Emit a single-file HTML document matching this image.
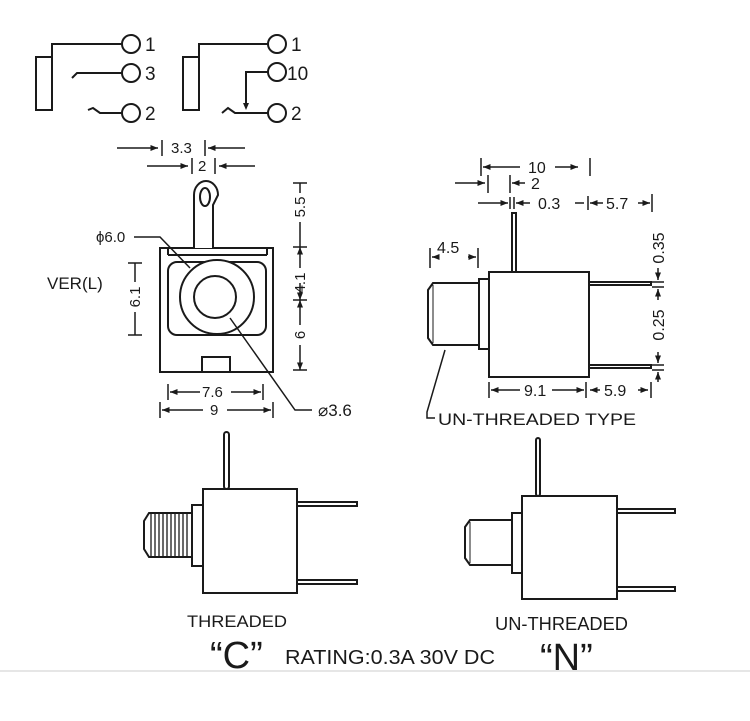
<!DOCTYPE html>
<html><head><meta charset="utf-8"><style>
html,body{margin:0;padding:0;background:#fff;}
svg{display:block;}
text{font-family:"Liberation Sans",Arial,sans-serif;fill:#1a1a1a;}
</style></head><body>
<svg width="750" height="721" viewBox="0 0 750 721" xmlns="http://www.w3.org/2000/svg">
<defs>
<marker id="a" viewBox="0 0 10 10" refX="10" refY="5" markerWidth="7" markerHeight="5" orient="auto-start-reverse"><path d="M0,1 L10,5 L0,9 z" fill="#1a1a1a"/></marker>
</defs>
<g stroke="#1a1a1a" stroke-width="2" fill="none">
<rect x="36" y="57" width="16" height="53"/>
<polyline points="52,57 52,44 122,44"/>
<circle cx="131" cy="44" r="9"/>
<polyline points="72,78 77,73 122,73"/><circle cx="131" cy="73" r="9"/>
<polyline points="88,110 93,108 100,113 122,113"/><circle cx="131" cy="113" r="9"/>
<rect x="183" y="57" width="16" height="53"/>
<polyline points="199,57 199,44 268,44"/><circle cx="277" cy="44" r="9"/>
<polyline points="268,72 246,72 246,105"/><circle cx="277" cy="72" r="9"/>
<polyline points="222,113 228,108 235,113 268,113"/><circle cx="277" cy="113" r="9"/>
</g>
<path d="M243,103 L249,103 L246,110 z" fill="#1a1a1a"/>
<g font-size="19"><text x="145" y="51">1</text><text x="145" y="80">3</text><text x="145" y="120">2</text>
<text x="291" y="51">1</text><text x="287" y="80">10</text><text x="291" y="120">2</text></g>

<g stroke="#1a1a1a" stroke-width="2" fill="none">
<rect x="160" y="248" width="113" height="124"/>
<line x1="168" y1="255" x2="267" y2="255"/><line x1="168" y1="248" x2="168" y2="255"/><line x1="267" y1="248" x2="267" y2="255"/>
<rect x="168" y="262" width="98" height="73" rx="9"/>
<circle cx="217" cy="297" r="37" fill="#fff"/>
<circle cx="215" cy="297" r="21"/>
<path d="M194,248 L194,195 A12,14 0 0 1 218,195 L213,205 L213,248" fill="#fff"/>
<ellipse cx="205" cy="197" rx="5" ry="9"/>
<rect x="202" y="357" width="28" height="15"/>
<polyline points="134,237 160,237 190,268" stroke-width="1.5"/>
<polyline points="230,318 295,410 312,410" stroke-width="1.5"/>
</g>
<g stroke="#1a1a1a" stroke-width="1.5" fill="none">
<line x1="117" y1="148" x2="158" y2="148" marker-end="url(#a)"/><line x1="162" y1="140" x2="162" y2="156"/>
<line x1="205" y1="140" x2="205" y2="156"/><line x1="245" y1="148" x2="208" y2="148" marker-end="url(#a)"/>
<line x1="147" y1="166" x2="188" y2="166" marker-end="url(#a)"/><line x1="192" y1="158" x2="192" y2="174"/>
<line x1="215" y1="158" x2="215" y2="174"/><line x1="255" y1="166" x2="219" y2="166" marker-end="url(#a)"/>
<line x1="293" y1="183" x2="307" y2="183"/><line x1="300" y1="183" x2="300" y2="193"/><line x1="300" y1="222" x2="300" y2="247"/>
<line x1="293" y1="247" x2="307" y2="247"/><line x1="300" y1="247" x2="300" y2="268" marker-start="url(#a)"/>
<line x1="300" y1="300" x2="300" y2="283" marker-start="url(#a)"/><line x1="293" y1="300" x2="307" y2="300"/>
<line x1="300" y1="300" x2="300" y2="325" marker-start="url(#a)"/><line x1="300" y1="370" x2="300" y2="345" marker-start="url(#a)"/>
<line x1="293" y1="370" x2="307" y2="370"/>
<line x1="128" y1="263" x2="142" y2="263"/><line x1="135" y1="263" x2="135" y2="282"/>
<line x1="135" y1="312" x2="135" y2="335"/><line x1="128" y1="335" x2="142" y2="335"/>
<line x1="168" y1="384" x2="168" y2="400"/><line x1="263" y1="384" x2="263" y2="400"/>
<line x1="170" y1="392" x2="200" y2="392" marker-start="url(#a)"/><line x1="231" y1="392" x2="261" y2="392" marker-end="url(#a)"/>
<line x1="160" y1="402" x2="160" y2="418"/><line x1="273" y1="402" x2="273" y2="418"/>
<line x1="162" y1="410" x2="203" y2="410" marker-start="url(#a)"/><line x1="227" y1="410" x2="271" y2="410" marker-end="url(#a)"/>
</g>
<g font-size="15">
<text x="171" y="153">3.3</text><text x="198" y="171">2</text>
<text x="96" y="242">ϕ6.0</text>
<text x="47" y="289" font-size="17">VER(L)</text>
<text x="202" y="397">7.6</text><text x="210" y="415">9</text>
<text x="318" y="416" font-size="17">⌀3.6</text>
<text transform="translate(305,207) rotate(-90)" text-anchor="middle">5.5</text>
<text transform="translate(305,283) rotate(-90)" text-anchor="middle">4.1</text>
<text transform="translate(305,335) rotate(-90)" text-anchor="middle">6</text>
<text transform="translate(140,297) rotate(-90)" text-anchor="middle">6.1</text>
</g>

<g stroke="#1a1a1a" stroke-width="2" fill="#fff">
<rect x="512" y="213" width="4" height="59"/>
<rect x="589" y="282" width="62" height="3"/>
<rect x="589" y="365" width="62" height="3"/>
<path d="M479,283 L433,283 L428,290 L428,338 L433,345 L479,345"/>
<line x1="433" y1="285" x2="433" y2="343" stroke-width="1"/>
<rect x="479" y="279" width="10" height="70"/>
<rect x="489" y="272" width="100" height="105"/>
</g>
<g stroke="#1a1a1a" stroke-width="1.5" fill="none">
<polyline points="445,350 427,412 427,418 435,418"/>
<line x1="481" y1="158" x2="481" y2="176"/><line x1="590" y1="158" x2="590" y2="176"/>
<line x1="483" y1="167" x2="520" y2="167" marker-start="url(#a)"/><line x1="555" y1="167" x2="578" y2="167" marker-end="url(#a)"/>
<line x1="455" y1="183" x2="485" y2="183" marker-end="url(#a)"/><line x1="488" y1="175" x2="488" y2="193"/>
<line x1="510" y1="175" x2="510" y2="193"/><line x1="525" y1="183" x2="512" y2="183" marker-end="url(#a)"/>
<line x1="478" y1="203" x2="508" y2="203" marker-end="url(#a)"/><line x1="510" y1="197" x2="510" y2="209"/><line x1="514" y1="197" x2="514" y2="209"/>
<line x1="530" y1="203" x2="516" y2="203" marker-end="url(#a)"/>
<line x1="575" y1="203" x2="584" y2="203"/><line x1="588" y1="196" x2="588" y2="210"/>
<line x1="603" y1="203" x2="590" y2="203" marker-end="url(#a)"/>
<line x1="638" y1="203" x2="650" y2="203" marker-end="url(#a)"/><line x1="652" y1="194" x2="652" y2="212"/>
<line x1="430" y1="248" x2="430" y2="268"/><line x1="478" y1="248" x2="478" y2="268"/>
<line x1="436" y1="257" x2="432" y2="257" marker-end="url(#a)"/><line x1="468" y1="257" x2="476" y2="257" marker-end="url(#a)"/>
<line x1="489" y1="382" x2="489" y2="398"/><line x1="586" y1="382" x2="586" y2="398"/>
<line x1="491" y1="390" x2="520" y2="390" marker-start="url(#a)"/><line x1="552" y1="390" x2="584" y2="390" marker-end="url(#a)"/>
<line x1="590" y1="390" x2="600" y2="390" marker-start="url(#a)"/><line x1="638" y1="390" x2="648" y2="390" marker-end="url(#a)"/><line x1="651" y1="382" x2="651" y2="398"/>
<line x1="658" y1="268" x2="658" y2="280" marker-end="url(#a)"/>
<line x1="652" y1="282" x2="664" y2="282"/><line x1="652" y1="287" x2="664" y2="287"/>
<line x1="658" y1="300" x2="658" y2="289" marker-end="url(#a)"/>
<line x1="658" y1="352" x2="658" y2="363" marker-end="url(#a)"/>
<line x1="652" y1="365" x2="664" y2="365"/><line x1="652" y1="370" x2="664" y2="370"/>
<line x1="658" y1="382" x2="658" y2="372" marker-end="url(#a)"/>
</g>
<g font-size="16">
<text x="528" y="173">10</text><text x="531" y="189">2</text><text x="538" y="209">0.3</text><text x="606" y="209">5.7</text>
<text x="437" y="253">4.5</text><text x="524" y="396">9.1</text><text x="604" y="396">5.9</text>
<text transform="translate(664,248) rotate(-90)" text-anchor="middle">0.35</text>
<text transform="translate(664,325) rotate(-90)" text-anchor="middle">0.25</text>
<text x="438" y="425" font-size="16.5" textLength="198" lengthAdjust="spacingAndGlyphs">UN-THREADED TYPE</text>
</g>

<g stroke="#1a1a1a" stroke-width="2" fill="#fff">
<rect x="224" y="432" width="5" height="57" rx="2.5"/>
<rect x="297" y="502" width="60" height="4"/>
<rect x="297" y="580" width="60" height="4"/>
<path d="M192,513 L149,513 L144,521 L144,549 L149,557 L192,557"/>
<rect x="192" y="505" width="11" height="61"/>
<rect x="203" y="489" width="94" height="104"/>
</g>
<g stroke="#1a1a1a" stroke-width="1.3">
<line x1="151" y1="514" x2="151" y2="556"/><line x1="155" y1="514" x2="155" y2="556"/><line x1="159" y1="514" x2="159" y2="556"/>
<line x1="163" y1="514" x2="163" y2="556"/><line x1="167" y1="514" x2="167" y2="556"/><line x1="171" y1="514" x2="171" y2="556"/>
<line x1="175" y1="514" x2="175" y2="556"/><line x1="179" y1="514" x2="179" y2="556"/><line x1="183" y1="514" x2="183" y2="556"/>
<line x1="187" y1="514" x2="187" y2="556"/>
</g>
<g stroke="#1a1a1a" stroke-width="2" fill="#fff">
<rect x="536" y="438" width="4" height="58" rx="2"/>
<rect x="617" y="509" width="58" height="4"/>
<rect x="617" y="587" width="58" height="4"/>
<path d="M512,520 L470,520 L465,527 L465,558 L470,565 L512,565"/>
<line x1="470" y1="522" x2="470" y2="563" stroke-width="1"/>
<rect x="512" y="513" width="10" height="60"/>
<rect x="522" y="496" width="95" height="103"/>
</g>
<text x="187" y="627" font-size="17" textLength="100" lengthAdjust="spacingAndGlyphs">THREADED</text>
<text x="495" y="630" font-size="18" textLength="133" lengthAdjust="spacingAndGlyphs">UN-THREADED</text>
<text x="210" y="668" font-size="38">“C”</text>
<text x="285" y="664" font-size="20" textLength="210" lengthAdjust="spacingAndGlyphs">RATING:0.3A 30V DC</text>
<text x="540" y="670" font-size="38">“N”</text>
<line x1="0" y1="671" x2="750" y2="671" stroke="#e6e6e6" stroke-width="2"/>
</svg>
</body></html>
